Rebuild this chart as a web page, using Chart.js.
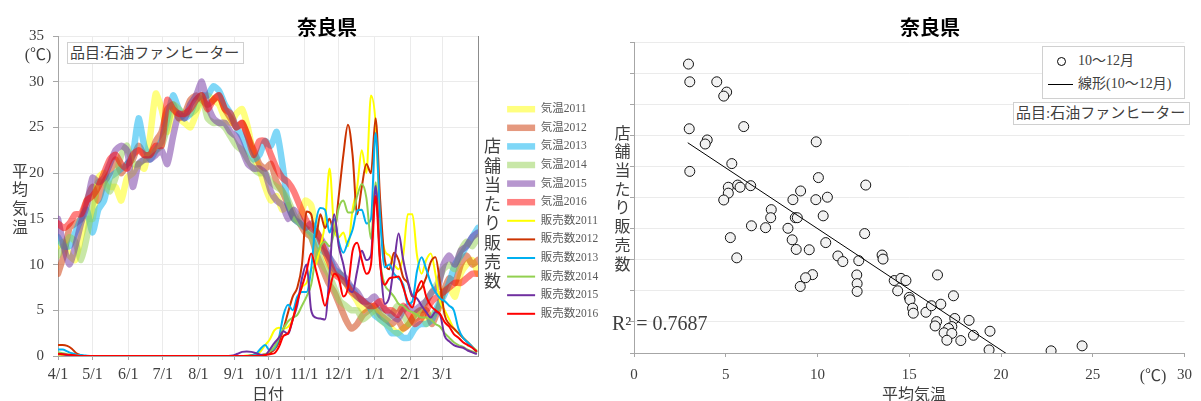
<!DOCTYPE html>
<html><head><meta charset="utf-8">
<script src="https://cdn.jsdelivr.net/npm/chart.js@4.4.1/dist/chart.umd.min.js"></script>
<style>
html,body{margin:0;padding:0;background:#fff;}
#wrap{position:relative;width:1201px;height:401px;overflow:hidden;background:#fff;font-family:"Liberation Serif","Noto Sans CJK JP",serif;color:#404040;}
canvas{position:absolute;top:0;}
#c1{left:0;} #c2{left:600px;}
.t{position:absolute;white-space:nowrap;}
.c{transform:translate(-50%,-50%);}
.title{font-family:"Noto Sans CJK JP",sans-serif;font-weight:bold;font-size:20px;color:#000;}
.stack{position:absolute;text-align:center;width:24px;transform:translateX(-50%);}
.box{position:absolute;border:1px solid #d0d0d0;background:#fff;font-size:15px;box-sizing:border-box;white-space:nowrap;padding-left:2px;}
</style></head>
<body>
<div id="wrap">
<canvas id="c1" width="600" height="401"></canvas>
<canvas id="c2" width="601" height="401"></canvas>

<div class="t c title" style="left:327px;top:26px;">奈良県</div>
<div class="t c title" style="left:930px;top:26px;">奈良県</div>

<div class="t c" style="left:38px;top:53px;font-size:16px;">(℃)</div>
<div class="stack" style="left:20px;top:162.6px;font-size:16px;line-height:18.7px;">平<br>均<br>気<br>温</div>
<div class="stack" style="left:492.5px;top:137.4px;font-size:17px;line-height:19.24px;">店<br>舗<br>当<br>た<br>り<br>販<br>売<br>数</div>
<div class="t c" style="left:268px;top:393px;font-size:16px;">日付</div>
<div class="box" style="left:67px;top:42px;width:177px;height:22px;line-height:20px;">品目:石油ファンヒーター</div>

<div class="stack" style="left:622.5px;top:124.6px;font-size:16px;line-height:18.7px;">店<br>舗<br>当<br>た<br>り<br>販<br>売<br>数</div>
<div class="t c" style="left:914px;top:393px;font-size:16px;">平均気温</div>
<div class="t c" style="left:1153px;top:374px;font-size:16px;">(℃)</div>
<div class="t" style="left:612px;top:323px;transform:translateY(-50%);font-size:20px;">R² = 0.7687</div>
<div class="box" style="left:1013px;top:102px;width:177px;height:23px;line-height:21px;">品目:石油ファンヒーター</div>
<div class="box" style="left:1042px;top:46px;width:143px;height:53px;font-size:14px;">
  <div style="position:absolute;left:14px;top:10px;width:7px;height:7px;border:1.5px solid #000;border-radius:50%;background:#fff;"></div>
  <div class="t" style="left:35px;top:5px;line-height:18px;">10～12月</div>
  <div style="position:absolute;left:5px;top:37px;width:25px;height:0;border-top:1px solid #000;"></div>
  <div class="t" style="left:35px;top:28px;line-height:18px;">線形(10～12月)</div>
</div>
</div>

<script>
// ---------- left chart data ----------
const monthTicks = [0,30,61,91,122,153,183,214,244,275,306,334];
const monthLabels = ['4/1','5/1','6/1','7/1','8/1','9/1','10/1','11/1','12/1','1/1','2/1','3/1'];
const years = ['2011','2012','2013','2014','2015','2016'];

const tempDays = [0,5,10,15,20,25,30,35,40,45,50,55,60,65,70,75,80,85,90,95,100,105,110,115,120,125,130,135,140,145,150,155,160,165,170,175,180,185,190,195,200,205,210,215,220,225,230,235,240,245,250,255,260,265,270,275,280,285,290,295,300,305,310,315,320,325,330,335,340,345,350,355,360,365];

const temp2011 = [12,12.5,11,10.5,13,15,15,19.5,20,18.5, 18.5,17,19.5,20,21,20.5,24,28.7,27,24.5, 27,26,25.5,25,26.5,28,28.5,28,27.5,26, 25.5,26.5,27,25,22,20.5,18.5,17,17.5,16, 16.5,15,15,17,16.5,13.5,12,10,9,9, 8,7,6,5,5.5,5,4,3.5,3,2.5, 3,3.5,4.5,5,3.5,4.5,5,7,7.5,6.5, 9,10,10.5,9];
const temp2012 = [9,11,14,14.5,15,17,18.5,17,19,20, 21.5,20,21,21.5,23,22,22,23.5,24.5,27, 27.5,26,26.5,28,28.5,28,27.5,28,28.5,27, 26,25,25.5,24,22.5,21,20.5,21,19,18, 16.5,15,14.5,13.5,13,11,9.5,8,7,5.5, 4,3,3.5,4.5,5,5.5,4.5,4,3.5,4, 3,3.5,4.5,5,5,3.5,5,7,8.5,8, 10,11,10,10.5];
const temp2013 = [13,12,12,13.5,15,16,13.5,16,17,19.5, 20,20.5,21,22,26,23,21.5,22.5,23.5,26, 28.5,27,26,26.5,28,28.5,28.5,29.5,29,27.5, 26.5,25,24,22.5,21.5,22,23.5,23,24.5,21, 16.5,15,14.5,14,13.5,12.5,11.5,11,9.5,9, 8,7.5,6.5,6,5.5,4.5,4,3.5,2.5,2.5, 2,2,3,3.5,3.5,4,5.5,6.5,8,10, 11,12,13,14];
const temp2014 = [11,12,13,12.5,10.5,13,16.5,19,19,18, 19.5,22,23,21,21,21.5,22,22.5,23,25, 27.5,27,26.5,26.5,27,28.5,26,25.5,25.5,25, 24,23,22.5,21.5,20.5,20,20,19,18.5,18, 17,15.5,14.5,14,13,11.5,10,9,7.5,6, 5.5,5,5,4,4.5,5,5,4,4.5,5.5, 4.5,3.5,4,4.5,6,7,8,9.5,10,9.5, 11.5,12.5,12,13];
const temp2015 = [15,12,10,12,14.5,16.5,19.5,19,19.5,21, 22.5,23,22.5,18.5,21,21.5,21.5,22,22.5,21, 24,26.5,26,27.5,28.5,30,27.5,26,25.5,25.5, 24.5,24,22.5,21,20.5,20.5,20,18,17,16.5, 15,16,15,14,14.5,13.5,12.5,11,10,9, 8.5,7.5,7,6,6,6.5,5.5,5,4.5,4, 5,5.5,5,5.5,6,7,7.5,10,11,10, 11.5,12,13,13.5];
const temp2016 = [14.5,14,14.5,15.5,15.5,17,17.5,18.5,20,21.5, 22,21,20.5,22,22.5,22,22,23,23,28, 27,26.5,26.5,27,28,28.5,27,28,28.5,27, 26.5,25,25.5,24,22,23.5,23.5,22,20.5,19.5, 19,18,16.5,15,14,13.5,12,10.5,9,8.5, 8,7,6.5,6,5.5,5.5,6,5,5,4.5, 5.5,4.5,3.5,4,5,6,6.5,7,7.5,8, 8,8.5,9,9];

const salesDays = [0,4,8,12,16,20,24,30, 148,152,156,160,164,168,172,176,180,184, 188,192,196,200,204,208,212,216,220,224, 228,232,236,240,244,248,252,256,260,264, 268,272,276,280,284,288,292,296,300,304, 308,312,316,320,324,328,332,336,340,344, 348,352,356,360,364];

const sales2011 = [0.15,0.1,0.05,0,0,0,0,0, 0,0,0,0,0.05,0.1,0.2,0.5,1.2,1.8, 2.8,3.1,3,3.2,4,6,7.5,8,9.5,10, 12,14.5,20.5,14,13,13.5,12,16,18.5,22.5, 20,28.5,25.5,15,11.5,11,10,9.5,11,15.5, 15.5,11,9,10.5,11.2,9,6,5,4,3, 2.5,2,1.5,1,0.6];
const sales2012 = [1.2,1.2,1.1,0.8,0.3,0.1,0,0, 0,0,0,0,0,0.05,0.1,0.1,0.2,0.3, 0.7,1.5,3,4.8,6.5,7.5,10,15.8,15.5,13, 15.5,14,15,13.5,17.5,22,25.3,22,15.5,18.5, 21,20,26,17,10.5,9.5,11.3,10.5,8.6,8, 6.5,7,7.5,8.6,10.3,10.8,8,4.5,3.5,3, 2.5,2,1.5,1,0.4];
const sales2013 = [0.7,0.7,0.5,0.3,0.15,0.1,0.05,0, 0,0,0,0,0,0.05,0.2,0.8,1.2,0.6, 0.8,2,4.5,5.6,5,6.5,7,7,9.5,14.5, 16.2,16,13.5,15,12.5,11.3,12.5,13.8,15.9,16, 14.5,15,24.4,15,9.7,10,9,8.5,7.8,5.7, 6,9.3,10.8,9.5,8,7,6.3,6,5.5,5, 3,2,1.5,1,0.5];
const sales2014 = [0.4,0.3,0.2,0.1,0.05,0,0,0, 0,0,0,0,0,0,0.05,0.1,0.2,0.5, 1,2,3,3.8,4.2,4.5,5.5,6.5,7.8,10.8, 12,12.5,12,13.5,16.2,17,15.7,15.7,17.5,18.8, 17.3,12.8,19,10.5,7.8,7.1,6.5,5.7,5.5,5, 4.8,4.5,4.2,4.2,4,3.5,3.2,2.5,2,1.5, 1.2,1,0.7,0.5,0.3];
const sales2015 = [0.2,0.2,0.1,0.05,0,0,0,0, 0,0.05,0.25,0.45,0.5,0.45,0.3,0.15,0.1,0.7, 1.4,2,2.7,2.4,4,5.6,8.5,10,5,4.2, 4.1,4,9,15.5,12,10,7.5,7,9.3,11.5, 10.5,11,18.6,10.5,5.7,6.5,10,13.4,10.5,8.2, 6.6,6.3,5.5,4.8,4.2,4.8,4.5,2.2,1.6,1.2, 1,0.9,0.6,0.4,0.2];
const sales2016 = [0.25,0.2,0.15,0.1,0.05,0,0,0, 0,0,0,0,0,0,0,0,0.1,0.2, 0.3,1,2.2,2.5,4,6,7.6,9.3,11.2,9.5, 7.5,5.5,7.2,9,8.5,6.5,7.5,11.5,12.4,10.5, 9,10,17.5,10,7.8,8.5,8.6,8.7,7.5,6, 5.3,7.2,8.2,6.5,5.5,5,4.6,3.7,3.2,2.4, 2,1.5,1.2,0.9,0.5];

// ---------- right chart data ----------
const scatterTemp  = [2.97,3.04,4.51,5.05,4.89,3.01,5.98,3.99,3.88,9.93, 3.04,5.33,10.05,12.63,5.14,5.65,5.78,6.36,5.14,4.89, 9.08,8.66,9.91,10.54,7.48,7.45,8.79,8.90,10.31,6.40, 7.17,8.39,12.57,5.25,8.62,10.45,5.60,8.84,9.55,11.11, 11.38,12.25,13.52,13.57,9.73,9.35,9.06,12.14,12.16,12.16, 14.18,14.55,14.82,14.37,16.54,15.00,15.04,15.18,15.22,15.91, 16.21,16.72,17.41,17.48,16.49,16.41,17.32,17.14,16.90,17.32, 17.05,17.81,18.26,18.50,19.40,19.35,22.73,24.42];
const scatterSales = [9.29,8.72,8.72,8.39,8.26,7.21,7.28,6.85,6.72,6.79, 5.84,6.09,5.64,5.40,5.33,5.40,5.33,5.38,5.14,4.92, 5.21,4.93,4.93,5.01,4.61,4.35,4.35,4.35,4.41,4.09, 4.03,4.01,3.84,3.71,3.64,3.55,3.06,3.33,3.32,3.12, 2.94,2.97,3.15,3.02,2.52,2.42,2.14,2.51,2.23,1.98, 2.33,2.40,2.33,2.00,2.51,1.79,1.71,1.44,1.28,1.31, 1.52,1.57,1.84,1.11,1.01,0.87,0.85,0.79,0.65,0.63, 0.41,0.40,1.05,0.57,0.70,0.10,0.07,0.23];
const trendX = [2.93, 24.42];
const trendY = [6.76, -1.63];

// ---------- build ----------
const F = '"Liberation Serif","Noto Sans CJK JP",serif';
Chart.defaults.font.family = F;
Chart.defaults.color = '#404040';

const pts = (xs, ys) => xs.map((x, i) => ({x: x, y: ys[i]}));
const temps = [temp2011, temp2012, temp2013, temp2014, temp2015, temp2016];
const sales = [sales2011, sales2012, sales2013, sales2014, sales2015, sales2016];
const tempColors = ['rgba(255,255,0,0.5)','rgba(204,51,0,0.5)','rgba(0,176,240,0.5)','rgba(146,208,80,0.5)','rgba(112,48,160,0.5)','rgba(255,0,0,0.5)'];
const salesColors = ['#FFFF00','#CC3300','#00B0F0','#92D050','#7030A0','#FF0000'];

const ds1 = temps.map((t, i) => ({
  label: '気温' + years[i], data: pts(tempDays, t), yAxisID: 'y',
  borderColor: tempColors[i], backgroundColor: tempColors[i], borderWidth: 6.5,
  borderCapStyle: 'round', borderJoinStyle: 'round', pointRadius: 0, tension: 0.2, order: 20 - i
})).concat(sales.map((s, i) => ({
  label: '販売数' + years[i], data: pts(salesDays, s), yAxisID: 'y2',
  borderColor: salesColors[i], backgroundColor: salesColors[i], borderWidth: 2,
  pointRadius: 0, cubicInterpolationMode: 'monotone', order: 10 - i
})));

new Chart(document.getElementById('c1'), {
  type: 'line',
  data: {datasets: ds1},
  options: {
    responsive: false, animation: false, devicePixelRatio: 1, events: [],
    layout: {padding: {left: 0, right: 0, top: 36, bottom: 14}},
    plugins: {
      tooltip: {enabled: false},
      legend: {
        position: 'right', align: 'center', maxWidth: 100,
        labels: {
          usePointStyle: true, pointStyle: 'line', pointStyleWidth: 28, padding: 7.1,
          font: {size: 11.5, family: F}, color: '#595959',
          sort: (a, b) => a.datasetIndex - b.datasetIndex
        }
      }
    },
    scales: {
      x: {
        type: 'linear', min: 0, max: 365,
        afterBuildTicks: s => { s.ticks = monthTicks.map(v => ({value: v})); },
        ticks: {autoSkip: false, maxRotation: 0, padding: 5, font: {size: 16, family: F}, color: '#404040',
                callback: (v, i) => monthLabels[i]},
        grid: {color: '#ebebeb', tickColor: '#a6a6a6', tickLength: 4},
        border: {color: '#a6a6a6'},
        afterFit: s => { s.height = 31; }
      },
      y: {
        min: 0, max: 35,
        ticks: {stepSize: 5, padding: 9, font: {size: 15, family: F}, color: '#404040'},
        grid: {color: '#ebebeb', tickColor: '#a6a6a6', tickLength: 5},
        border: {color: '#a6a6a6'},
        afterFit: s => { s.width = 58; }
      },
      y2: {
        position: 'right', min: 0, max: 35,
        ticks: {display: false},
        grid: {drawOnChartArea: false, drawTicks: false},
        border: {color: '#8c8c8c'},
        afterFit: s => { s.width = 22; }
      }
    }
  }
});

new Chart(document.getElementById('c2'), {
  type: 'scatter',
  data: {datasets: [
    {label: '線形(10～12月)', data: pts(trendX, trendY), showLine: true, borderColor: '#000', borderWidth: 1, pointRadius: 0, order: 0},
    {label: '10～12月', data: pts(scatterTemp, scatterSales), pointRadius: 5, pointBorderWidth: 1,
     pointBackgroundColor: '#f2f2f2', pointBorderColor: '#111', order: 1}
  ]},
  options: {
    responsive: false, animation: false, devicePixelRatio: 1, events: [],
    layout: {padding: {left: 0, right: 15, top: 42, bottom: 0}},
    plugins: {tooltip: {enabled: false}, legend: {display: false}},
    scales: {
      x: {
        type: 'linear', min: 0, max: 30,
        ticks: {stepSize: 5, padding: 9, font: {size: 15, family: F}, color: '#404040'},
        grid: {drawOnChartArea: false, tickColor: '#a6a6a6', tickLength: 4},
        border: {color: '#a6a6a6'},
        afterFit: s => { s.height = 48; }
      },
      y: {
        min: 0, max: 10,
        ticks: {stepSize: 1, display: false},
        grid: {color: '#ebebeb', tickColor: '#a6a6a6', tickLength: 4},
        border: {color: '#a6a6a6'},
        afterFit: s => { s.width = 34; }
      }
    }
  }
});
</script>
</body></html>
